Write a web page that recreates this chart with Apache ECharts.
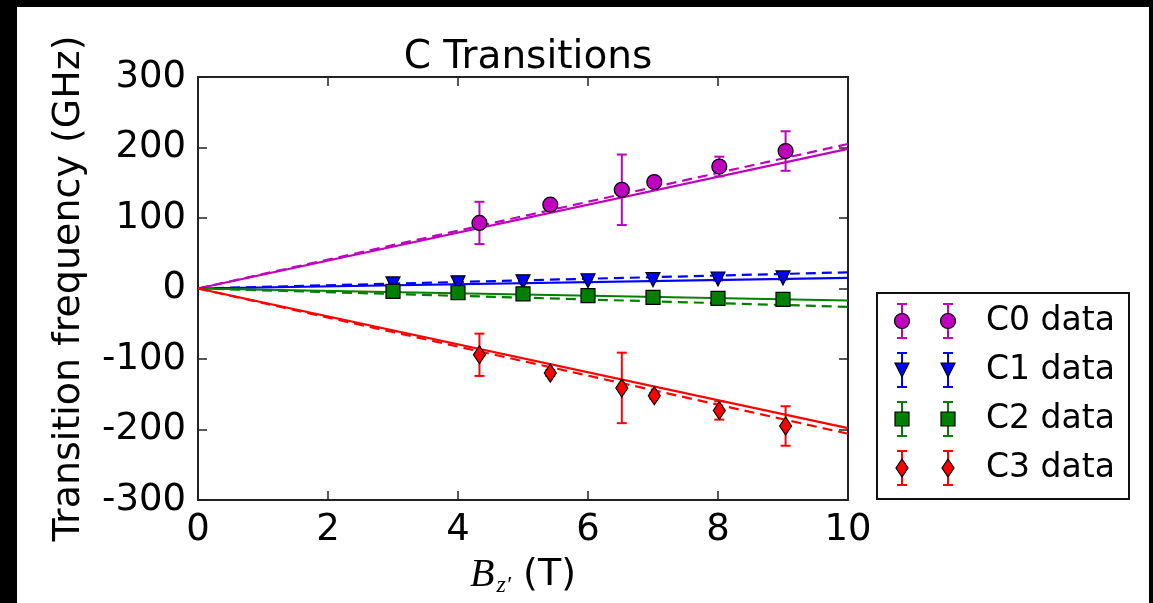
<!DOCTYPE html>
<html>
<head>
<meta charset="utf-8">
<script src="https://cdn.jsdelivr.net/npm/echarts@6/dist/echarts.min.js"></script>
<style>
  html, body { margin: 0; padding: 0; background: #000; }
  #chart {
    position: absolute;
    left: 17px;
    top: 7px;
    width: 1132px;
    height: 596px;
    background: #fff;
  }
</style>
</head>
<body>
<div id="chart"></div>
<script>
  // measured points (B field in T, frequency in GHz)
  const c0X = [4.33, 5.42, 6.52, 7.02, 8.02, 9.04]
  const c0Y = [93, 119, 140, 151, 173, 195]
  const c0Err = [30, 4, 50, 4, 14, 28]

  const c3X = [4.33, 5.42, 6.52, 7.02, 8.02, 9.04]
  const c3Y = [-94, -120, -141, -152, -173, -195]
  const c3Err = [30, 4, 50, 4, 13, 28]

  const c1X = [3, 4, 5, 6, 7, 8, 9]
  const c1Y = [6.5, 8, 9.5, 11, 12.5, 13.5, 15]
  const c1Err = [2, 2, 2, 2, 2, 2, 2]

  const c2X = [3, 4, 5, 6, 7, 8, 9]
  const c2Y = [-4, -6, -7.5, -10, -12.5, -14, -15.5]
  const c2Err = [2, 2, 2, 2, 2, 2, 2]

  // fit (solid) and model (dashed) lines, endpoints at B = 0 and 10
  const fitX = [0, 10]
  const c0Fit = [0, 198]
  const c0Model = [0, 205]
  const c1Fit = [0, 15]
  const c1Model = [0, 23]
  const c2Fit = [0, -17]
  const c2Model = [0, -26]
  const c3Fit = [0, -198]
  const c3Model = [0, -206]

  const legendNames = ['C0 data', 'C1 data', 'C2 data', 'C3 data']
  const colors = ['#bf00bf', '#0000ff', '#008000', '#ff0000']

  const sans = 'DejaVu Sans'

  function pairs(xs, ys) {
    return xs.map((x, i) => [x, ys[i]])
  }

  function line(xs, ys, color, dashed) {
    return {
      type: 'line',
      data: pairs(xs, ys),
      showSymbol: false,
      silent: true,
      lineStyle: { color: color, width: 2.2, type: dashed ? [10, 6] : 'solid' },
      z: 2
    }
  }

  function errorBars(xs, ys, errs, color) {
    return {
      type: 'custom',
      data: xs.map((x, i) => [x, ys[i] - errs[i], ys[i] + errs[i]]),
      encode: { x: 0, y: [1, 2] },
      renderItem: (params, api) => {
        const lo = api.coord([api.value(0), api.value(1)])
        const hi = api.coord([api.value(0), api.value(2)])
        const cap = 5
        const style = { stroke: color, lineWidth: 2 }
        return {
          type: 'group',
          children: [
            { type: 'line', shape: { x1: lo[0], y1: lo[1], x2: hi[0], y2: hi[1] }, style: style },
            { type: 'line', shape: { x1: lo[0] - cap, y1: lo[1], x2: lo[0] + cap, y2: lo[1] }, style: style },
            { type: 'line', shape: { x1: hi[0] - cap, y1: hi[1], x2: hi[0] + cap, y2: hi[1] }, style: style }
          ]
        }
      },
      z: 3
    }
  }

  function markers(xs, ys, color, symbol, size, rotate) {
    return {
      type: 'scatter',
      data: pairs(xs, ys),
      symbol: symbol,
      symbolSize: size,
      symbolRotate: rotate || 0,
      itemStyle: { color: color, borderColor: '#000', borderWidth: 1.2, opacity: 1 },
      z: 4
    }
  }

  // legend drawn by hand: matplotlib style, two markers with error bars per row
  function legendGraphic() {
    const box = { x: 860, y: 286, w: 252, h: 206 }
    const rowY = [314, 363, 412, 461]
    const markX = [885, 931]
    const items = [{
      type: 'rect',
      shape: { x: box.x, y: box.y, width: box.w, height: box.h },
      style: { fill: '#fff', stroke: '#111', lineWidth: 2 }
    }]
    rowY.forEach((y, k) => {
      const c = colors[k]
      markX.forEach((x) => {
        const es = { stroke: c, lineWidth: 2 }
        items.push({ type: 'line', shape: { x1: x, y1: y - 17, x2: x, y2: y + 17 }, style: es })
        items.push({ type: 'line', shape: { x1: x - 5, y1: y - 17, x2: x + 5, y2: y - 17 }, style: es })
        items.push({ type: 'line', shape: { x1: x - 5, y1: y + 17, x2: x + 5, y2: y + 17 }, style: es })
        const ms = { fill: c, stroke: '#000', lineWidth: 1.2 }
        if (k === 0) {
          items.push({ type: 'circle', shape: { cx: x, cy: y, r: 7.5 }, style: ms })
        } else if (k === 1) {
          items.push({ type: 'polygon', shape: { points: [[x - 7, y - 7], [x + 7, y - 7], [x, y + 7]] }, style: ms })
        } else if (k === 2) {
          items.push({ type: 'rect', shape: { x: x - 7, y: y - 7, width: 14, height: 14 }, style: ms })
        } else {
          items.push({ type: 'polygon', shape: { points: [[x, y - 9], [x + 6, y], [x, y + 9], [x - 6, y]] }, style: ms })
        }
      })
      items.push({
        type: 'text',
        x: 969,
        y: y,
        style: { text: legendNames[k], font: '33px "DejaVu Sans"', fill: '#000', verticalAlign: 'middle' }
      })
    })
    return items
  }

  const chart = echarts.init(document.getElementById('chart'))

  const axisLine = { show: true, onZero: false, lineStyle: { color: '#222', width: 2 } }
  const axisTick = { show: true, inside: true, length: 9, lineStyle: { color: '#222', width: 1.5 } }

  chart.setOption({
    animation: false,
    title: {
      text: 'C Transitions',
      left: 506,
      top: 26,
      textAlign: 'center',
      textStyle: { fontFamily: sans, fontSize: 39, fontWeight: 'normal', color: '#000' }
    },
    grid: { left: 181, top: 70, right: 301, bottom: 93 },
    xAxis: [
      {
        type: 'value',
        min: 0,
        max: 10,
        interval: 2,
        position: 'bottom',
        axisLine: axisLine,
        axisTick: axisTick,
        splitLine: { show: false },
        axisLabel: { fontFamily: sans, fontSize: 37, color: '#000', margin: 12 },
        name: '{b|B}{s|z′}{t| (T)}',
        nameLocation: 'middle',
        nameGap: 52,
        nameTextStyle: {
          rich: {
            b: { fontFamily: 'Liberation Serif', fontStyle: 'italic', fontSize: 40, color: '#000' },
            s: { fontFamily: 'Liberation Serif', fontStyle: 'italic', fontSize: 24, color: '#000', padding: [22, 0, 0, 2] },
            t: { fontFamily: sans, fontSize: 38, color: '#000' }
          }
        }
      },
      {
        type: 'value',
        min: 0,
        max: 10,
        interval: 2,
        position: 'top',
        axisLine: axisLine,
        axisTick: axisTick,
        axisLabel: { show: false },
        splitLine: { show: false }
      }
    ],
    yAxis: [
      {
        type: 'value',
        min: -300,
        max: 300,
        interval: 100,
        position: 'left',
        axisLine: axisLine,
        axisTick: axisTick,
        splitLine: { show: false },
        axisLabel: { fontFamily: sans, fontSize: 37, color: '#000', margin: 12 },
        name: 'Transition frequency (GHz)',
        nameLocation: 'middle',
        nameGap: 110,
        nameTextStyle: { fontFamily: sans, fontSize: 38, color: '#000' }
      },
      {
        type: 'value',
        min: -300,
        max: 300,
        interval: 100,
        position: 'right',
        axisLine: axisLine,
        axisTick: axisTick,
        axisLabel: { show: false },
        splitLine: { show: false }
      }
    ],
    series: [
      line(fitX, c0Fit, colors[0], false),
      line(fitX, c0Model, colors[0], true),
      line(fitX, c1Fit, colors[1], false),
      line(fitX, c1Model, colors[1], true),
      line(fitX, c2Fit, colors[2], false),
      line(fitX, c2Model, colors[2], true),
      line(fitX, c3Fit, colors[3], false),
      line(fitX, c3Model, colors[3], true),
      errorBars(c0X, c0Y, c0Err, colors[0]),
      errorBars(c1X, c1Y, c1Err, colors[1]),
      errorBars(c2X, c2Y, c2Err, colors[2]),
      errorBars(c3X, c3Y, c3Err, colors[3]),
      markers(c0X, c0Y, colors[0], 'circle', 15),
      markers(c1X, c1Y, colors[1], 'triangle', 14, 180),
      markers(c2X, c2Y, colors[2], 'rect', 14),
      markers(c3X, c3Y, colors[3], 'diamond', [12, 18])
    ],
    graphic: legendGraphic()
  })
</script>
</body>
</html>
